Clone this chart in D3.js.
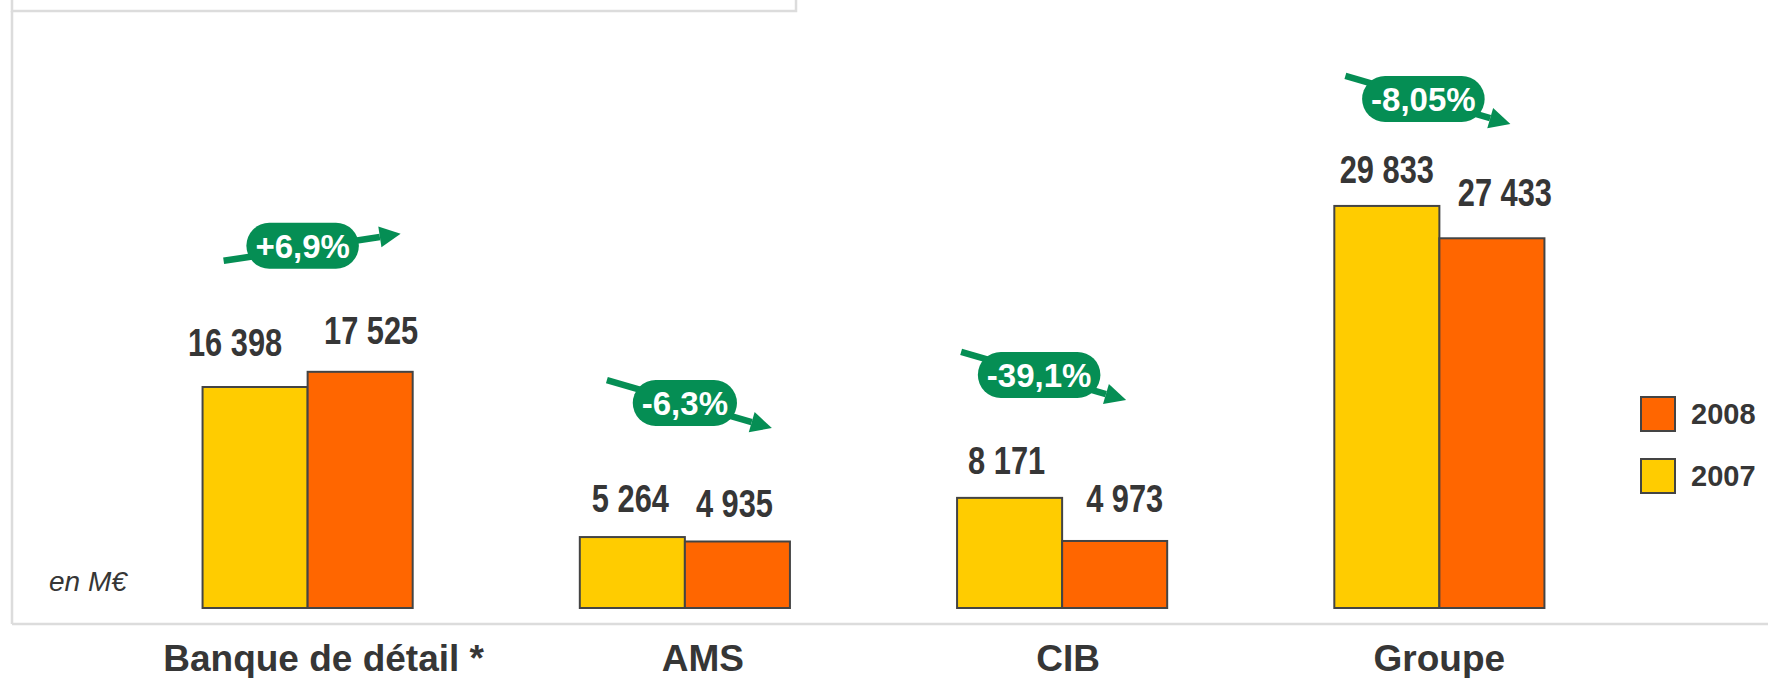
<!DOCTYPE html>
<html>
<head>
<meta charset="utf-8">
<script src="https://cdn.jsdelivr.net/npm/d3@7"></script>
<style>
  html, body { margin: 0; padding: 0; background: #fff; }
  svg { display: block; }
</style>
</head>
<body>
<svg id="chart" width="1768" height="678"></svg>
<script>
// ---------- DATA ----------
const categories = ["Banque de détail *", "AMS", "CIB", "Groupe"];
const seriesNames = ["2007", "2008"];
const values2007 = [16398, 5264, 8171, 29833];
const values2008 = [17525, 4935, 4973, 27433];
const changeLabels = ["+6,9%", "-6,3%", "-39,1%", "-8,05%"];
const changeDirection = [1, -1, -1, -1];
const unitLabel = "en M€";

// ---------- LAYOUT / STYLE ----------
const W = 1768, H = 678;
const colors = { "2007": "#FFCC00", "2008": "#FF6600" };
const green = "#058E54";
const textColor = "#363636";
const frameColor = "#dcdcdc";
// small label nudges (px) copied from the original slide's free-floating text boxes
const valueNudgeX = { "2007": [-20, -2, -3, 0], "2008": [11, -3, 10, 13] };
const valueNudgeY = { "2007": [-31, -25, -24, -23], "2008": [-28, -24, -29, -32] };
const catNudgeX = [16, 18, 6, 0];
const pillNudgeX = [-5, 0, -23, -16];
const pillNudgeY = [-126, -134, -123, -107];

const svg = d3.select("#chart");

const x0 = d3.scaleBand().domain(categories).range([119, 1628])
  .paddingInner(0.443).paddingOuter(0.2215);
const x1 = d3.scaleBand().domain(seriesNames).range([0, x0.bandwidth()]);
const y = d3.scaleLinear().domain([0, 35000]).range([608, 136.3]);

const rows = categories.map((c, i) => ({
  cat: c, i,
  vals: [{ s: "2007", v: values2007[i] }, { s: "2008", v: values2008[i] }]
}));

// ---------- FRAME ----------
svg.append("rect").attr("x", 12).attr("y", -4).attr("width", 784).attr("height", 15)
  .attr("fill", "#fff").attr("stroke", frameColor).attr("stroke-width", 2.5);
svg.append("line").attr("x1", 12).attr("x2", 12).attr("y1", 11).attr("y2", 624)
  .attr("stroke", frameColor).attr("stroke-width", 2.5);
svg.append("line").attr("x1", 12).attr("x2", W).attr("y1", 624).attr("y2", 624)
  .attr("stroke", frameColor).attr("stroke-width", 2.5);

// ---------- BARS ----------
const g = svg.append("g");
const groups = g.selectAll("g.grp").data(rows).join("g")
  .attr("transform", d => `translate(${x0(d.cat)},0)`);

groups.selectAll("rect").data(d => d.vals).join("rect")
  .attr("x", d => x1(d.s))
  .attr("y", d => y(d.v))
  .attr("width", x1.bandwidth())
  .attr("height", d => y(0) - y(d.v))
  .attr("fill", d => colors[d.s])
  .attr("stroke", "#444")
  .attr("stroke-width", 2);

// value labels (condensed bold, like Arial Narrow)
groups.each(function (d) {
  d3.select(this).selectAll("text.val").data(d.vals).join("text")
    .attr("class", "val")
    .attr("transform", v => `translate(${x1(v.s) + x1.bandwidth() / 2 + valueNudgeX[v.s][d.i]},${y(v.v) + valueNudgeY[v.s][d.i]}) scale(0.8,1)`)
    .attr("text-anchor", "middle")
    .attr("font-family", "'Liberation Sans', Arial, sans-serif")
    .attr("font-weight", "bold")
    .attr("font-size", 38.5)
    .attr("fill", textColor)
    .text(v => d3.format(",")(v.v).replace(/,/g, " "));
});

// ---------- CATEGORY LABELS ----------
svg.selectAll("text.cat").data(rows).join("text")
  .attr("class", "cat")
  .attr("x", d => x0(d.cat) + x0.bandwidth() / 2 + catNudgeX[d.i])
  .attr("y", 671)
  .attr("text-anchor", "middle")
  .attr("font-family", "'Liberation Sans', Arial, sans-serif")
  .attr("font-weight", "bold")
  .attr("font-size", 37)
  .attr("fill", textColor)
  .text(d => d.cat);

// unit
svg.append("text").attr("x", 49).attr("y", 591)
  .attr("font-family", "'Liberation Sans', Arial, sans-serif")
  .attr("font-style", "italic").attr("font-size", 28).attr("fill", textColor)
  .text(unitLabel);

// ---------- CHANGE ARROWS + PILLS ----------
const arrowGeom = {
  "1": { sx: -79, sy: 15, ex: 98, ey: -12 },
  "-1": { sx: -78, sy: -23, ex: 87, ey: 25 }
};
rows.forEach(d => {
  const cx = x0(d.cat) + x0.bandwidth() / 2 + pillNudgeX[d.i];
  const top = Math.min(y(values2007[d.i]), y(values2008[d.i]));
  const cy = top + pillNudgeY[d.i];
  const ag = arrowGeom[String(changeDirection[d.i])];
  const sx = cx + ag.sx, sy = cy + ag.sy, ex = cx + ag.ex, ey = cy + ag.ey;
  const ang = Math.atan2(ey - sy, ex - sx);
  const headLen = 21, headHalf = 10.5;
  const bx = ex - headLen * Math.cos(ang), by = ey - headLen * Math.sin(ang);
  const ag2 = svg.append("g");
  ag2.append("line").attr("x1", sx).attr("y1", sy).attr("x2", bx).attr("y2", by)
    .attr("stroke", green).attr("stroke-width", 6.5);
  const px = -Math.sin(ang), py = Math.cos(ang);
  ag2.append("path")
    .attr("d", `M${ex},${ey}L${bx + px * headHalf},${by + py * headHalf}L${bx - px * headHalf},${by - py * headHalf}Z`)
    .attr("fill", green);
  const t = ag2.append("text").attr("x", cx).attr("y", cy + 12)
    .attr("text-anchor", "middle")
    .attr("font-family", "'Liberation Sans', Arial, sans-serif")
    .attr("font-weight", "bold").attr("font-size", 33).attr("fill", "#fff")
    .text(changeLabels[d.i]);
  const bb = t.node().getBBox();
  const pw = bb.width + 18, ph = 46;
  ag2.insert("rect", "text")
    .attr("x", cx - pw / 2).attr("y", cy - ph / 2)
    .attr("width", pw).attr("height", ph)
    .attr("rx", ph / 2).attr("ry", ph / 2)
    .attr("fill", green);
});

// ---------- LEGEND ----------
const legendItems = ["2008", "2007"];
const lg = svg.append("g").attr("transform", "translate(1641,397)");
const li = lg.selectAll("g").data(legendItems).join("g")
  .attr("transform", (d, i) => `translate(0,${i * 62})`);
li.append("rect").attr("width", 34).attr("height", 34)
  .attr("fill", d => colors[d]).attr("stroke", "#444").attr("stroke-width", 2);
li.append("text").attr("x", 50).attr("y", 27)
  .attr("font-family", "'Liberation Sans', Arial, sans-serif")
  .attr("font-weight", "bold").attr("font-size", 29).attr("fill", textColor)
  .text(d => d);
</script>
</body>
</html>
